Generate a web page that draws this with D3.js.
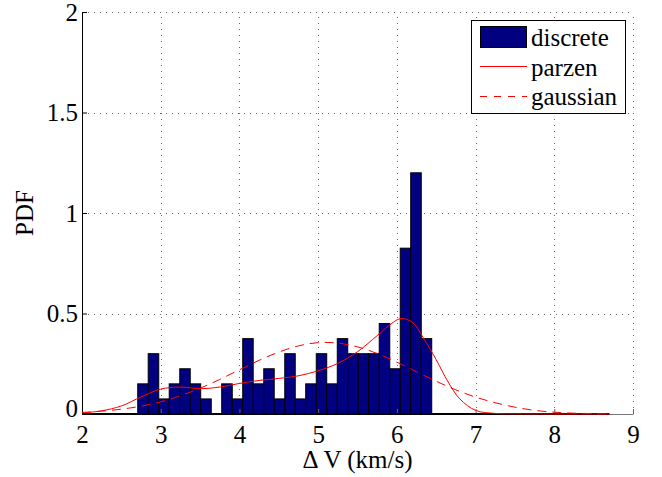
<!DOCTYPE html>
<html>
<head>
<meta charset="utf-8">
<script src="https://cdn.jsdelivr.net/npm/d3@7"></script>
<style>
  body { margin: 0; background: #fff; }
  text { font-family: "Liberation Serif", "Times New Roman", serif; fill: #000; }
</style>
</head>
<body>
<div id="chart"></div>
<script>
// histogram bin edges (km/s) and pdf heights
const binEdges = [2.708, 2.841, 2.975, 3.108, 3.242, 3.375, 3.508, 3.642, 3.775, 3.909,
  4.042, 4.175, 4.309, 4.442, 4.576, 4.709, 4.842, 4.976, 5.109, 5.243,
  5.376, 5.509, 5.643, 5.776, 5.910, 6.043, 6.176, 6.310, 6.443];
const binPdf = [0.15, 0.30, 0.075, 0.15, 0.225, 0.15, 0.075, 0, 0.15, 0.075,
  0.375, 0.15, 0.225, 0.075, 0.30, 0.075, 0.15, 0.30, 0.15, 0.375,
  0.30, 0.30, 0.30, 0.45, 0.225, 0.825, 1.20, 0.375];

// parzen estimate
const parzenX = [2, 2.25, 2.5, 2.75, 3, 3.25, 3.5, 3.75, 4, 4.25, 4.5, 4.75, 5, 5.25,
  5.5, 5.75, 5.9, 6.05, 6.2, 6.35, 6.5, 6.65, 6.8, 7, 7.25, 7.5, 8, 8.7];
const parzenY = [0.005, 0.016, 0.04, 0.085, 0.124, 0.134, 0.126, 0.134, 0.152, 0.167, 0.177, 0.19, 0.215, 0.252,
  0.31, 0.39, 0.44, 0.475, 0.455, 0.37, 0.27, 0.16, 0.075, 0.018, 0.003, 0.001, 0, 0];

// gaussian fit
const gaussX = [2, 2.25, 2.5, 2.75, 3, 3.25, 3.5, 3.75, 4, 4.25, 4.5, 4.75, 5, 5.25,
  5.5, 5.75, 6, 6.25, 6.5, 6.75, 7, 7.25, 7.5, 7.75, 8, 8.25, 8.5, 8.7];
const gaussY = [0.008, 0.014, 0.024, 0.039, 0.061, 0.091, 0.128, 0.172, 0.22, 0.267, 0.308, 0.339, 0.355, 0.353,
  0.334, 0.301, 0.258, 0.21, 0.163, 0.12, 0.084, 0.056, 0.034, 0.018, 0.009, 0.004, 0.002, 0.001];

const xTicks = [2, 3, 4, 5, 6, 7, 8, 9];
const yTicks = [0, 0.5, 1, 1.5, 2];
const legendLabels = ["discrete", "parzen", "gaussian"];

let w = 662;
let h = 477;
let marginTop = 12;
let marginBottom = 63;
let marginLeft = 82;
let marginRight = 29;

let x = d3.scaleLinear().domain([2, 9]).range([marginLeft, w - marginRight]);
let y = d3.scaleLinear().domain([0, 2]).range([h - marginBottom, marginTop]);

let svg = d3.select("#chart")
  .append("svg")
  .attr("width", w)
  .attr("height", h);

svg.append("rect").attr("width", w).attr("height", h).attr("fill", "#fff");

// dotted grid
let grid = svg.append("g").attr("stroke", "#666").attr("stroke-width", 1)
  .attr("stroke-dasharray", "1,5");
grid.selectAll(".gx")
  .data(xTicks.slice(1))
  .enter()
  .append("line")
  .attr("x1", d => Math.round(x(d)) + 0.5)
  .attr("x2", d => Math.round(x(d)) + 0.5)
  .attr("y1", y(0))
  .attr("y2", y(2));
grid.selectAll(".gy")
  .data(yTicks.slice(1))
  .enter()
  .append("line")
  .attr("x1", x(2))
  .attr("x2", x(9))
  .attr("y1", d => Math.round(y(d)) + 0.5)
  .attr("y2", d => Math.round(y(d)) + 0.5);

// bars
let bins = binPdf.map(function (v, i) {
  return { x0: binEdges[i], x1: binEdges[i + 1], v: v };
});
svg.append("g")
  .selectAll("rect")
  .data(bins.filter(d => d.v > 0))
  .enter()
  .append("rect")
  .attr("x", d => x(d.x0))
  .attr("width", d => x(d.x1) - x(d.x0))
  .attr("y", d => y(d.v))
  .attr("height", d => y(0) - y(d.v))
  .attr("fill", "#000080")
  .attr("stroke", "#000")
  .attr("stroke-width", 1);

// axes
let xAxis = d3.axisBottom(x).tickValues(xTicks).tickSizeInner(-5).tickSizeOuter(0).tickFormat(d3.format("d"));
let gx = svg.append("g")
  .attr("transform", `translate(0,${y(0)})`)
  .call(xAxis);
gx.select(".domain").attr("stroke", "#777");
gx.selectAll(".tick line").attr("stroke", "#666");
gx.selectAll(".tick text")
  .attr("y", 29)
  .attr("dy", 0)
  .attr("font-size", 25);

// hist baseline
svg.append("line")
  .attr("x1", x(2))
  .attr("x2", x(8.7))
  .attr("y1", y(0))
  .attr("y2", y(0))
  .attr("stroke", "#000")
  .attr("stroke-width", 2);

let yAxis = d3.axisLeft(y).tickValues(yTicks).tickSizeInner(-5).tickSizeOuter(0).tickFormat(d3.format("~g"));
let gy = svg.append("g")
  .attr("transform", `translate(${x(2)},0)`)
  .call(yAxis);
gy.select(".domain").attr("stroke", "#000");
gy.selectAll(".tick text")
  .attr("x", -4)
  .attr("dy", d => d === 0 ? "0.08em" : "0.32em")
  .attr("font-size", 25);

// curves
let line = d3.line().curve(d3.curveCatmullRom);
svg.append("path")
  .attr("d", line(parzenX.map((v, i) => [x(v), y(parzenY[i])])))
  .attr("fill", "none")
  .attr("stroke", "#f00")
  .attr("stroke-width", 1);
svg.append("path")
  .attr("d", line(gaussX.map((v, i) => [x(v), y(gaussY[i])])))
  .attr("fill", "none")
  .attr("stroke", "#f00")
  .attr("stroke-width", 1)
  .attr("stroke-dasharray", "9,6");

// axis titles
svg.append("text")
  .attr("x", x(5.5))
  .attr("y", 468)
  .attr("text-anchor", "middle")
  .attr("font-size", 25)
  .text("\u0394 V (km/s)");
svg.append("text")
  .attr("transform", `translate(33,${y(1)}) rotate(-90)`)
  .attr("text-anchor", "middle")
  .attr("font-size", 25)
  .text("PDF");

// legend
let legend = svg.append("g");
legend.append("rect")
  .attr("x", 471.5)
  .attr("y", 20.5)
  .attr("width", 154)
  .attr("height", 93)
  .attr("fill", "#fff")
  .attr("stroke", "#000");
legend.append("rect")
  .attr("x", 480.5)
  .attr("y", 26.5)
  .attr("width", 46)
  .attr("height", 21)
  .attr("fill", "#000080")
  .attr("stroke", "#000");
legend.append("line")
  .attr("x1", 480).attr("x2", 527).attr("y1", 66.5).attr("y2", 66.5)
  .attr("stroke", "#f00");
legend.append("line")
  .attr("x1", 480).attr("x2", 527).attr("y1", 96.5).attr("y2", 96.5)
  .attr("stroke", "#f00").attr("stroke-dasharray", "7,7");
legend.selectAll(".lbl")
  .data(legendLabels)
  .enter()
  .append("text")
  .attr("x", 531)
  .attr("y", (d, i) => 46 + i * 29.5)
  .attr("font-size", 25)
  .text(d => d);
</script>
</body>
</html>
